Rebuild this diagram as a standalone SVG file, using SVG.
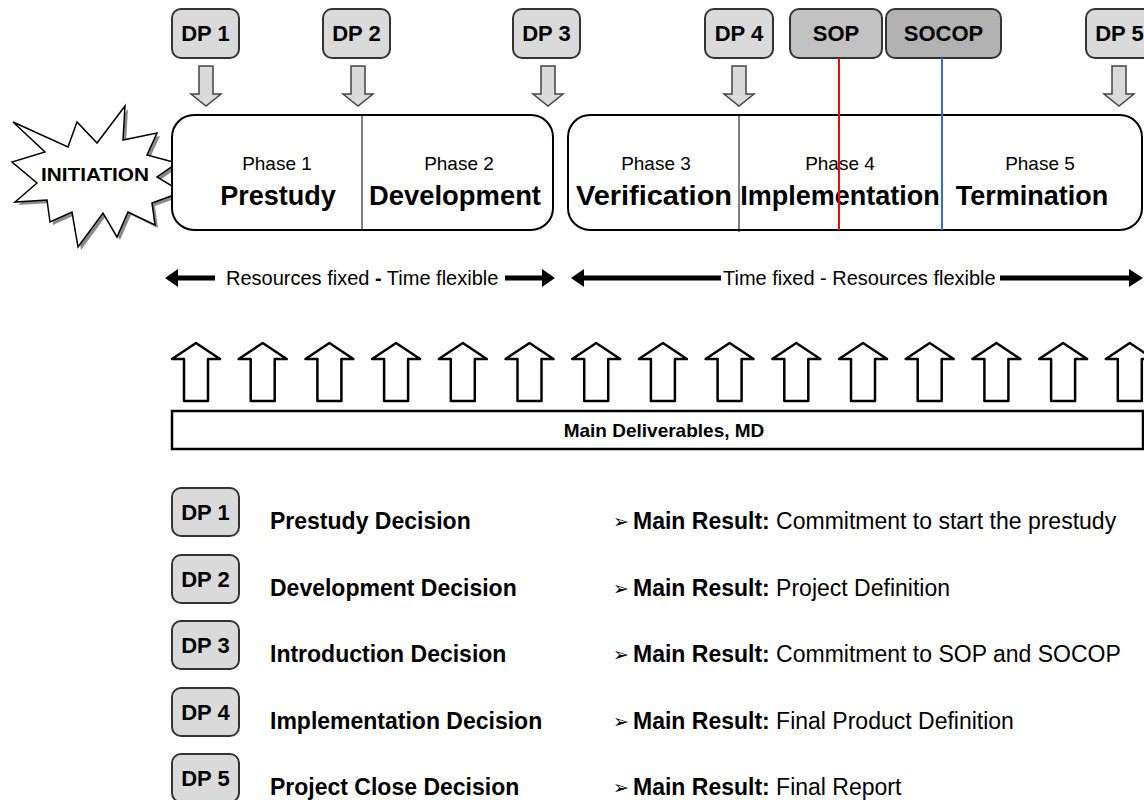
<svg xmlns="http://www.w3.org/2000/svg" xmlns:xlink="http://www.w3.org/1999/xlink" width="1144" height="800" viewBox="0 0 1144 800">
  <style>
    text { font-family: "Liberation Sans", Arial, sans-serif; fill: #000; }
    .dp { fill: #dadada; stroke: #333; stroke-width: 2; }
    .sop { fill: #c2c2c2; stroke: #333; stroke-width: 2; }
    .socop { fill: #b2b2b2; stroke: #333; stroke-width: 2; }
    .dplabel { font-size: 22px; font-weight: bold; text-anchor: middle; }
    .down { fill: #dadada; stroke: #444; stroke-width: 1.5; }
    .phase { fill: #fff; stroke: #000; stroke-width: 2; }
    .divider { stroke: #000; stroke-width: 1; }
    .pnum { font-size: 19px; text-anchor: middle; }
    .pname { font-size: 27px; font-weight: bold; text-anchor: middle; }
    .span { font-size: 20px; }
    .up { fill: #fff; stroke: #000; stroke-width: 2.5; stroke-linejoin: round; }
    .legend { font-size: 23px; font-weight: bold; }
    .result { font-size: 23px; }
    .bullet { font-family: "DejaVu Sans", sans-serif; font-size: 19px; }
  </style>
  <defs>
    <path id="downArrow" class="down" d="M-7,66 H7 V94 H15 L0,106 L-15,94 H-7 Z"/>
    <path id="upArrow" class="up" d="M0,343 L24,359 H12 V401 H-12 V359 H-24 Z"/>
    <path id="flatArrowL" d="M0,0 L13,-9 V-2.5 H50 V2.5 H13 V9 Z"/>
  </defs>

  <!-- initiation starburst with drop shadow -->
  <g id="initiation">
    <polygon transform="translate(3,3)" fill="#8a8a8a" points="13,122 68,147 77,122 97,143 125,106 123,140 157,133 147,155 177,163 157,177 182,192 152,203 155,225 128,212 117,237 103,213 78,247 72,212 50,222 47,200 15,202 37,183 12,162 45,152"/>
    <polygon fill="#fff" stroke="#000" stroke-width="1.5" stroke-linejoin="miter" points="13,122 68,147 77,122 97,143 125,106 123,140 157,133 147,155 177,163 157,177 182,192 152,203 155,225 128,212 117,237 103,213 78,247 72,212 50,222 47,200 15,202 37,183 12,162 45,152"/>
    <text x="95" y="181" font-size="19" font-weight="bold" text-anchor="middle" textLength="108" lengthAdjust="spacingAndGlyphs">INITIATION</text>
  </g>

  <!-- decision points along the top -->
  <g id="dp1-top"><rect class="dp" x="172" y="9" width="67" height="49" rx="9"/><text class="dplabel" x="205.5" y="41">DP 1</text></g>
  <g id="dp2-top"><rect class="dp" x="323" y="9" width="67" height="49" rx="9"/><text class="dplabel" x="356.5" y="41">DP 2</text></g>
  <g id="dp3-top"><rect class="dp" x="513" y="9" width="67" height="49" rx="9"/><text class="dplabel" x="546.5" y="41">DP 3</text></g>
  <g id="dp4-top"><rect class="dp" x="705" y="9" width="68" height="49" rx="9"/><text class="dplabel" x="739" y="41">DP 4</text></g>
  <g id="sop"><rect class="sop" x="790" y="9" width="92" height="49" rx="9"/><text class="dplabel" x="836" y="41">SOP</text></g>
  <g id="socop"><rect class="socop" x="886" y="9" width="115" height="49" rx="9"/><text class="dplabel" x="943.5" y="41">SOCOP</text></g>
  <g id="dp5-top"><rect class="dp" x="1086" y="9" width="67" height="49" rx="9"/><text class="dplabel" x="1119.5" y="41">DP 5</text></g>

  <!-- phase blocks -->
  <g id="phases-a">
    <rect class="phase" x="172" y="115" width="381" height="115" rx="22"/>
    <line class="divider" x1="362" y1="115" x2="362" y2="230"/>
    <text class="pnum" x="277" y="170">Phase 1</text>
    <text class="pname" x="278" y="205">Prestudy</text>
    <text class="pnum" x="459" y="170">Phase 2</text>
    <text class="pname" x="455" y="205" textLength="172" lengthAdjust="spacingAndGlyphs">Development</text>
  </g>
  <g id="phases-b">
    <rect class="phase" x="568" y="115" width="574" height="115" rx="22"/>
    <line class="divider" x1="739" y1="115" x2="739" y2="232"/>
    <text class="pnum" x="656" y="170">Phase 3</text>
    <text class="pname" x="654" y="205" textLength="156" lengthAdjust="spacingAndGlyphs">Verification</text>
    <text class="pnum" x="840" y="170">Phase 4</text>
    <text class="pname" x="840" y="205">Implementation</text>
    <text class="pnum" x="1040" y="170">Phase 5</text>
    <text class="pname" x="1032" y="205">Termination</text>
  </g>

  <!-- connectors: decision arrows and milestone markers -->
  <g id="connectors">
    <use xlink:href="#downArrow" href="#downArrow" x="206"/>
    <use xlink:href="#downArrow" href="#downArrow" x="358"/>
    <use xlink:href="#downArrow" href="#downArrow" x="548"/>
    <use xlink:href="#downArrow" href="#downArrow" x="739"/>
    <use xlink:href="#downArrow" href="#downArrow" x="1119"/>
    <line x1="839" y1="58" x2="839" y2="230" stroke="#ff0000" stroke-width="2"/>
    <line x1="942" y1="58" x2="942" y2="230" stroke="#3366ff" stroke-width="2"/>
  </g>

  <!-- fixed / flexible spans -->
  <g id="span-resources">
    <use xlink:href="#flatArrowL" href="#flatArrowL" transform="translate(165,278)"/>
    <text class="span" x="226" y="285">Resources fixed <tspan font-weight="bold">-</tspan> Time flexible</text>
    <use xlink:href="#flatArrowL" href="#flatArrowL" transform="translate(555,278) scale(-1,1)"/>
  </g>
  <g id="span-time">
    <path d="M571,278 L584,269 V275.5 H721 V280.5 H584 V287 Z"/>
    <text class="span" x="723" y="285">Time fixed - Resources flexible</text>
    <path d="M1000,275.5 H1129 V269 L1143,278 L1129,287 V280.5 H1000 Z"/>
  </g>

  <!-- main deliverables -->
  <g id="deliverables">
    <use xlink:href="#upArrow" href="#upArrow" x="196"/>
    <use xlink:href="#upArrow" href="#upArrow" x="262.7"/>
    <use xlink:href="#upArrow" href="#upArrow" x="329.4"/>
    <use xlink:href="#upArrow" href="#upArrow" x="396.1"/>
    <use xlink:href="#upArrow" href="#upArrow" x="462.8"/>
    <use xlink:href="#upArrow" href="#upArrow" x="529.5"/>
    <use xlink:href="#upArrow" href="#upArrow" x="596.2"/>
    <use xlink:href="#upArrow" href="#upArrow" x="662.9"/>
    <use xlink:href="#upArrow" href="#upArrow" x="729.6"/>
    <use xlink:href="#upArrow" href="#upArrow" x="796.3"/>
    <use xlink:href="#upArrow" href="#upArrow" x="863"/>
    <use xlink:href="#upArrow" href="#upArrow" x="929.7"/>
    <use xlink:href="#upArrow" href="#upArrow" x="996.4"/>
    <use xlink:href="#upArrow" href="#upArrow" x="1063.1"/>
    <use xlink:href="#upArrow" href="#upArrow" x="1129.8"/>
    <rect x="172" y="411" width="971" height="38" fill="#fff" stroke="#000" stroke-width="2.5"/>
    <text x="664" y="437" font-size="19" font-weight="bold" text-anchor="middle">Main Deliverables, MD</text>
  </g>

  <!-- legend of decision points -->
  <g id="legend-dp1">
    <rect class="dp" x="172" y="488" width="67" height="48" rx="9"/><text class="dplabel" x="205.5" y="520">DP 1</text>
    <text class="legend" x="270" y="529">Prestudy Decision</text>
    <text class="bullet" x="613" y="528">➢</text>
    <text class="result" x="633" y="529"><tspan font-weight="bold">Main Result:</tspan> Commitment to start the prestudy</text>
  </g>
  <g id="legend-dp2">
    <rect class="dp" x="172" y="555" width="67" height="48" rx="9"/><text class="dplabel" x="205.5" y="587">DP 2</text>
    <text class="legend" x="270" y="596">Development Decision</text>
    <text class="bullet" x="613" y="595">➢</text>
    <text class="result" x="633" y="596"><tspan font-weight="bold">Main Result:</tspan> Project Definition</text>
  </g>
  <g id="legend-dp3">
    <rect class="dp" x="172" y="621" width="67" height="48" rx="9"/><text class="dplabel" x="205.5" y="653">DP 3</text>
    <text class="legend" x="270" y="662">Introduction Decision</text>
    <text class="bullet" x="613" y="661">➢</text>
    <text class="result" x="633" y="662"><tspan font-weight="bold">Main Result:</tspan> Commitment to SOP and SOCOP</text>
  </g>
  <g id="legend-dp4">
    <rect class="dp" x="172" y="688" width="67" height="48" rx="9"/><text class="dplabel" x="205.5" y="720">DP 4</text>
    <text class="legend" x="270" y="729">Implementation Decision</text>
    <text class="bullet" x="613" y="728">➢</text>
    <text class="result" x="633" y="729"><tspan font-weight="bold">Main Result:</tspan> Final Product Definition</text>
  </g>
  <g id="legend-dp5">
    <rect class="dp" x="172" y="754" width="67" height="48" rx="9"/><text class="dplabel" x="205.5" y="786">DP 5</text>
    <text class="legend" x="270" y="795">Project Close Decision</text>
    <text class="bullet" x="613" y="794">➢</text>
    <text class="result" x="633" y="795"><tspan font-weight="bold">Main Result:</tspan> Final Report</text>
  </g>
</svg>
